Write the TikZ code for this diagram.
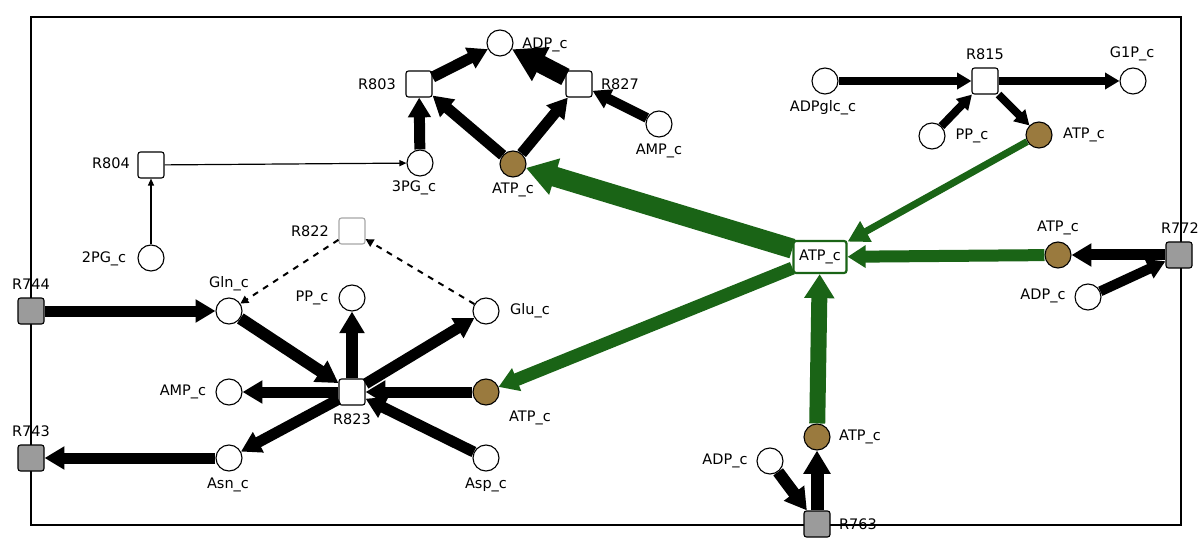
\documentclass[tikz,border=0pt]{standalone}
\usepackage{fontspec}
\setmainfont{DejaVu Sans}
\usetikzlibrary{arrows.meta}
\definecolor{ggreen}{RGB}{26,100,22}
\definecolor{brownc}{RGB}{154,122,62}
\definecolor{grayr}{RGB}{155,155,155}
\begin{document}
\begin{tikzpicture}[x=1pt,y=-1pt,
  met/.style={circle,draw=black,line width=1.1pt,fill=white,minimum size=26pt,inner sep=0pt},
  atp/.style={met,fill=brownc},
  rxn/.style={rectangle,draw=black,line width=1.1pt,fill=white,minimum size=26pt,inner sep=0pt,rounded corners=2.5pt},
  grx/.style={rxn,fill=grayr},
  lrx/.style={rxn,draw=gray!70},
  lbl/.style={font=\fontsize{14.5}{15}\selectfont,inner sep=0pt},
  fl/.style={line width=#1,-{Triangle[length=0pt 1.8,width=0pt 2]}},
  gfl/.style={fl=#1,draw=ggreen,-{Triangle[length=0pt 1.5,width=0pt 1.8,fill=ggreen]}},
  thin/.style={line width=1.2pt,-{Triangle[length=7pt,width=6pt]}},
  dsh/.style={line width=2pt,dash pattern=on 6pt off 6pt,-{Triangle[length=8pt,width=8pt]}}]
\useasboundingbox (0,0) rectangle (1200,540);
\draw[line width=1.2pt] (31,17) rectangle (1181,525);
% nodes
\node[met] (adpT) at (500,43) {};
\node[rxn] (r803) at (419,84) {};
\node[rxn] (r827) at (579,84) {};
\node[met] (ampT) at (659,124) {};
\node[met] (pg3) at (420,163) {};
\node[atp] (atpT) at (513,164) {};
\node[rxn] (r804) at (151,165) {};
\node[met] (pg2) at (151,258) {};
\node[met] (adpglc) at (825,81) {};
\node[rxn] (r815) at (985,81) {};
\node[met] (g1p) at (1133,81) {};
\node[met] (ppR) at (932,136) {};
\node[atp] (atpR) at (1039,135) {};
\node[rectangle,draw=ggreen,line width=2.2pt,fill=white,minimum width=53pt,minimum height=32pt,rounded corners=2.5pt,inner sep=0pt,font=\fontsize{14.5}{15}\selectfont] (hub) at (820,257) {ATP\_c};
\node[atp] (atp772) at (1058,255) {};
\node[grx] (r772) at (1179,255) {};
\node[met] (adp772) at (1088,297) {};
\node[lrx] (r822) at (352,231) {};
\node[met] (gln) at (229,311) {};
\node[met] (ppM) at (352,298) {};
\node[met] (glu) at (486,311) {};
\node[grx] (r744) at (31,311) {};
\node[grx] (r743) at (31,458) {};
\node[met] (ampM) at (229,392) {};
\node[rxn] (r823) at (352,392) {};
\node[atp] (atpM) at (486,392) {};
\node[met] (asn) at (229,458) {};
\node[met] (asp) at (486,458) {};
\node[atp] (atp763) at (817,437) {};
\node[met] (adp763) at (770,461) {};
\node[grx] (r763) at (817,524) {};
% labels
\node[lbl] (l1) at (545,45) {ADP\_c};
\node[lbl] (l2) at (377,84) {R803};
\node[lbl] (l3) at (620,84) {R827};
\node[lbl] (l4) at (659,151) {AMP\_c};
\node[lbl] (l5) at (414,188) {3PG\_c};
\node[lbl] (l6) at (513,190) {ATP\_c};
\node[lbl] (l7) at (111,163) {R804};
\node[lbl] (l8) at (104,259) {2PG\_c};
\node[lbl] (l9) at (823,108) {ADPglc\_c};
\node[lbl] (l10) at (985,54) {R815};
\node[lbl] (l11) at (1132,54) {G1P\_c};
\node[lbl] (l12) at (972,136) {PP\_c};
\node[lbl] (l13) at (1084,135) {ATP\_c};
\node[lbl] (l14) at (1058,228) {ATP\_c};
\node[lbl] (l15) at (1180,228) {R772};
\node[lbl] (l16) at (1043,296) {ADP\_c};
\node[lbl] (l17) at (310,231) {R822};
\node[lbl] (l18) at (229,284) {Gln\_c};
\node[lbl] (l19) at (312,298) {PP\_c};
\node[lbl] (l20) at (530,311) {Glu\_c};
\node[lbl] (l21) at (31,284) {R744};
\node[lbl] (l22) at (31,431) {R743};
\node[lbl] (l23) at (183,392) {AMP\_c};
\node[lbl] (l24) at (352,419) {R823};
\node[lbl] (l25) at (530,418) {ATP\_c};
\node[lbl] (l26) at (228,485) {Asn\_c};
\node[lbl] (l27) at (486,485) {Asp\_c};
\node[lbl] (l28) at (860,437) {ATP\_c};
\node[lbl] (l29) at (725,461) {ADP\_c};
\node[lbl] (l30) at (858,524) {R763};
% black edges
\draw[fl=11pt] (r803) -- (adpT);
\draw[fl=18pt] (r827) -- (adpT);
\draw[fl=11pt] (atpT) -- (r803);
\draw[fl=11pt] (atpT) -- (r827);
\draw[fl=11pt] (pg3) -- (r803);
\draw[fl=10pt] (ampT) -- (r827);
\draw[thin] (r804) -- (pg3);
\draw[thin] (pg2) -- (r804);
\draw[fl=8pt] (adpglc) -- (r815);
\draw[fl=8pt] (r815) -- (g1p);
\draw[fl=8pt] (ppR) -- (r815);
\draw[fl=8pt] (r815) -- (atpR);
\draw[fl=11pt] (r772) -- (atp772);
\draw[fl=10pt] (adp772) -- (r772);
\draw[fl=13pt] (r763) -- (atp763);
\draw[fl=12pt] (adp763) -- (r763);
\draw[fl=11pt] (r744) -- (gln);
\draw[fl=11pt] (asn) -- (r743);
\draw[fl=12pt] (gln) -- (r823);
\draw[fl=12pt] (r823) -- (ppM);
\draw[fl=11pt] (r823) -- (glu);
\draw[fl=11pt] (atpM) -- (r823);
\draw[fl=11pt] (asp) -- (r823);
\draw[fl=11pt] (r823) -- (ampM);
\draw[fl=11pt] (r823) -- (asn);
\draw[dsh] (r822) -- (gln);
\draw[dsh] (glu) -- (r822);
% green edges
\draw[gfl=20pt] (hub) -- (atpT);
\draw[gfl=13pt] (hub) -- (atpM);
\draw[gfl=7pt,-{Triangle[length=0pt 3,width=0pt 3.2,fill=ggreen]}] (atpR) -- (hub);
\draw[gfl=12pt] (atp772) -- (hub);
\draw[gfl=16pt] (atp763) -- (hub);
\end{tikzpicture}
\end{document}
